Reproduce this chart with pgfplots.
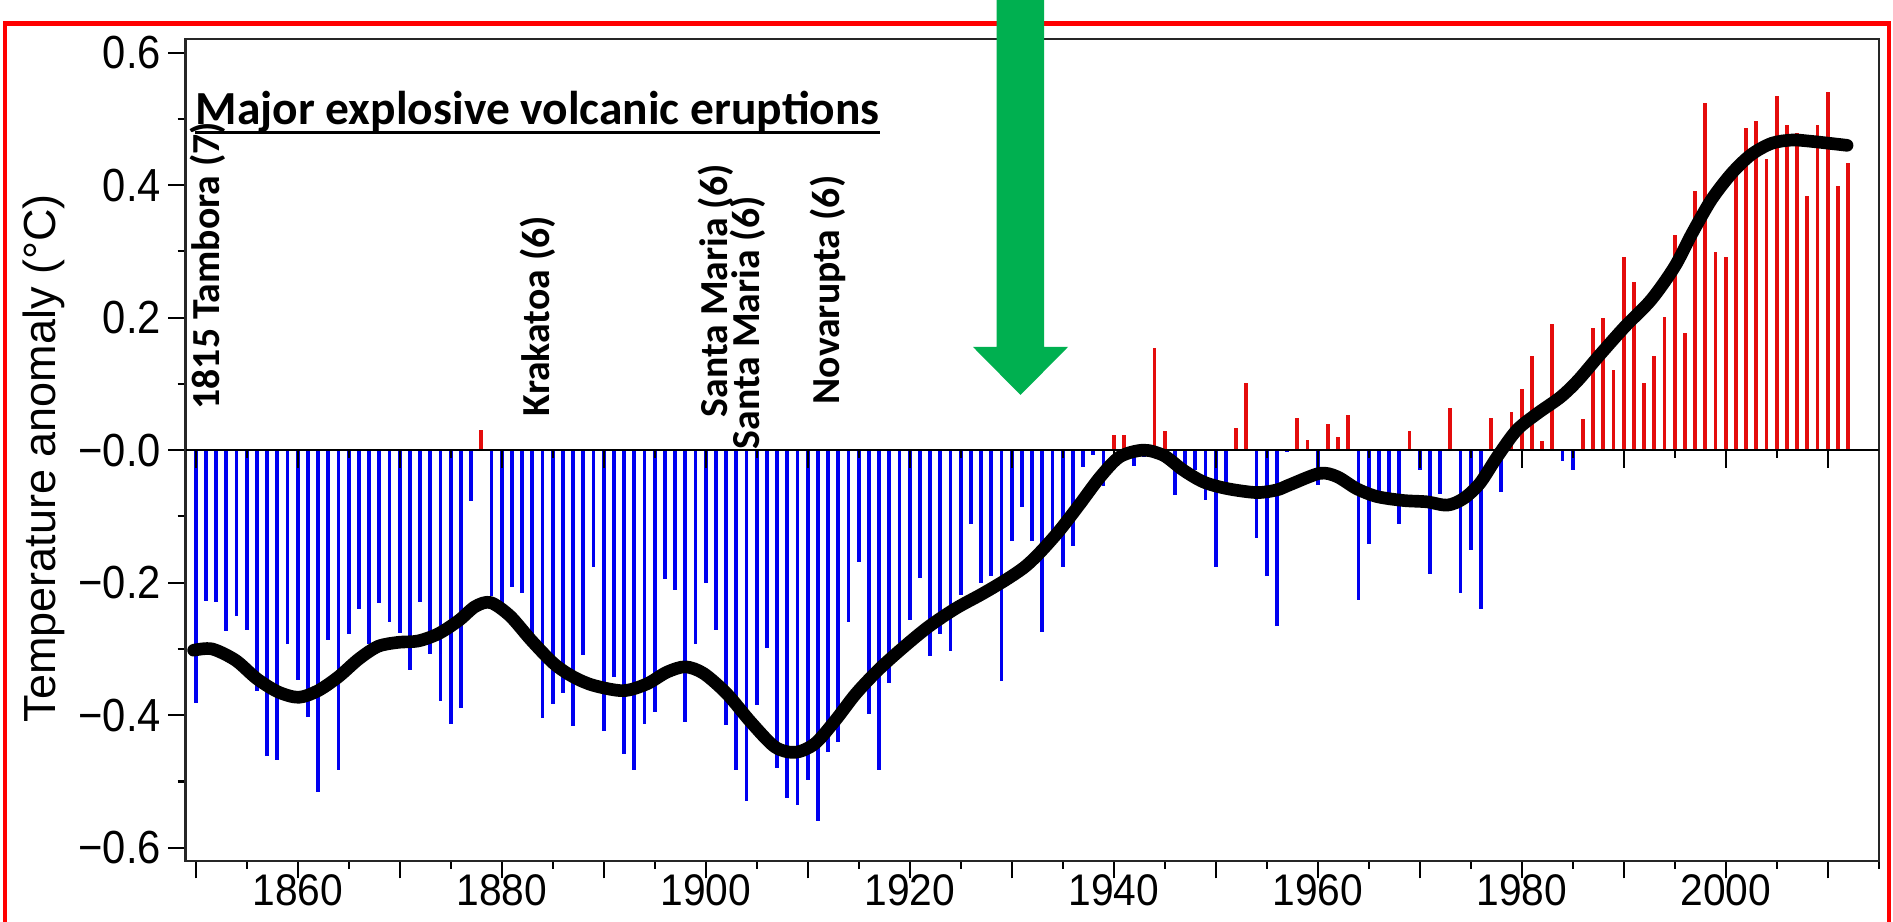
\documentclass[border=0pt]{standalone}
\usepackage{pgfplots}
\usepackage{pgfplotstable}
\pgfplotsset{compat=1.18}
\usepackage{fontspec}
\setmainfont{Liberation Sans}
\newfontfamily\calib{Carlito}
\definecolor{barblue}{RGB}{0,0,240}
\definecolor{barred}{RGB}{228,12,12}
\definecolor{arrowgreen}{RGB}{0,176,80}
\definecolor{framered}{RGB}{255,0,0}

\pgfplotstableread{
year val
1850 -0.382
1851 -0.227
1852 -0.229
1853 -0.273
1854 -0.251
1855 -0.271
1856 -0.363
1857 -0.462
1858 -0.468
1859 -0.293
1860 -0.347
1861 -0.402
1862 -0.516
1863 -0.287
1864 -0.483
1865 -0.277
1866 -0.240
1867 -0.292
1868 -0.231
1869 -0.260
1870 -0.276
1871 -0.332
1872 -0.229
1873 -0.307
1874 -0.378
1875 -0.414
1876 -0.389
1877 -0.077
1878 0.031
1879 -0.220
1880 -0.230
1881 -0.206
1882 -0.215
1883 -0.280
1884 -0.404
1885 -0.383
1886 -0.366
1887 -0.417
1888 -0.309
1889 -0.176
1890 -0.424
1891 -0.342
1892 -0.459
1893 -0.482
1894 -0.413
1895 -0.395
1896 -0.194
1897 -0.211
1898 -0.411
1899 -0.293
1900 -0.200
1901 -0.271
1902 -0.415
1903 -0.482
1904 -0.530
1905 -0.385
1906 -0.298
1907 -0.479
1908 -0.525
1909 -0.536
1910 -0.498
1911 -0.559
1912 -0.456
1913 -0.441
1914 -0.259
1915 -0.169
1916 -0.398
1917 -0.482
1918 -0.352
1919 -0.291
1920 -0.256
1921 -0.193
1922 -0.311
1923 -0.278
1924 -0.303
1925 -0.219
1926 -0.111
1927 -0.200
1928 -0.190
1929 -0.349
1930 -0.137
1931 -0.086
1932 -0.137
1933 -0.275
1934 -0.140
1935 -0.177
1936 -0.145
1937 -0.025
1938 -0.008
1939 -0.054
1940 0.023
1941 0.023
1942 -0.024
1943 -0.010
1944 0.154
1945 0.029
1946 -0.068
1947 -0.042
1948 -0.030
1949 -0.075
1950 -0.176
1951 -0.050
1952 0.034
1953 0.101
1954 -0.132
1955 -0.190
1956 -0.266
1957 -0.003
1958 0.048
1959 0.016
1960 -0.053
1961 0.040
1962 0.020
1963 0.053
1964 -0.226
1965 -0.142
1966 -0.070
1967 -0.075
1968 -0.112
1969 0.029
1970 -0.030
1971 -0.187
1972 -0.066
1973 0.063
1974 -0.216
1975 -0.150
1976 -0.240
1977 0.048
1978 -0.063
1979 0.058
1980 0.093
1981 0.142
1982 0.014
1983 0.190
1984 -0.017
1985 -0.030
1986 0.047
1987 0.185
1988 0.200
1989 0.121
1990 0.292
1991 0.253
1992 0.102
1993 0.142
1994 0.201
1995 0.324
1996 0.177
1997 0.391
1998 0.524
1999 0.299
2000 0.292
2001 0.434
2002 0.486
2003 0.497
2004 0.439
2005 0.535
2006 0.491
2007 0.479
2008 0.384
2009 0.490
2010 0.541
2011 0.399
2012 0.433
}\anomtab

\pgfplotstableread{
year val
1849.8 -0.302
1851.6 -0.300
1853.9 -0.317
1856.0 -0.345
1858.1 -0.365
1860.1 -0.373
1862.0 -0.363
1864.0 -0.342
1866.0 -0.315
1867.9 -0.296
1869.9 -0.290
1871.8 -0.288
1873.8 -0.277
1875.8 -0.257
1877.4 -0.236
1878.9 -0.230
1880.8 -0.250
1882.9 -0.287
1885.1 -0.322
1887.0 -0.342
1889.0 -0.355
1891.9 -0.363
1894.2 -0.353
1896.2 -0.335
1898.0 -0.327
1899.8 -0.337
1902.1 -0.368
1904.4 -0.410
1906.8 -0.448
1908.8 -0.456
1910.7 -0.443
1912.7 -0.408
1914.7 -0.368
1916.9 -0.332
1919.2 -0.300
1921.8 -0.267
1924.5 -0.239
1927.1 -0.217
1929.4 -0.196
1931.3 -0.176
1932.8 -0.154
1934.7 -0.121
1936.7 -0.081
1938.7 -0.040
1940.6 -0.010
1942.9 0.000
1944.9 -0.008
1946.8 -0.030
1948.8 -0.048
1951.1 -0.058
1954.0 -0.064
1956.0 -0.060
1957.3 -0.052
1960.2 -0.035
1961.9 -0.040
1963.8 -0.058
1965.8 -0.070
1968.4 -0.076
1970.7 -0.078
1972.7 -0.083
1974.3 -0.073
1975.9 -0.050
1977.6 -0.010
1979.5 0.030
1981.5 0.055
1983.8 0.080
1985.5 0.105
1987.5 0.141
1990.1 0.186
1992.7 0.227
1995.0 0.277
1996.7 0.327
1998.6 0.378
2000.6 0.418
2002.5 0.446
2004.5 0.463
2006.5 0.468
2008.4 0.466
2011.9 0.460
}\curvetab

\begin{document}
\begin{tikzpicture}
\useasboundingbox (0,0) rectangle (18.93,9.22);
\begin{axis}[
  at={(1.855cm,0.61cm)}, anchor=south west,
  scale only axis, width=16.932cm, height=8.217cm,
  xmin=1849, xmax=2015, ymin=-0.62, ymax=0.62,
  axis line style={line width=0.6pt, black!85},
  xtick={1850,1860,1870,1880,1890,1900,1910,1920,1930,1940,1950,1960,1970,1980,1990,2000,2010},
  xticklabels={,1860,,1880,,1900,,1920,,1940,,1960,,1980,,2000,},
  minor xtick={1855,1865,1875,1885,1895,1905,1915,1925,1935,1945,1955,1965,1975,1985,1995,2005,2015},
  ytick={-0.6,-0.4,-0.2,0,0.2,0.4,0.6},
  yticklabels={−0.6,−0.4,−0.2,−0.0,0.2,0.4,0.6},
  minor ytick={-0.5,-0.3,-0.1,0.1,0.3,0.5},
  tick align=outside,
  tick pos=left,
  major tick length=0.175cm, minor tick length=0.08cm,
  every tick/.style={line width=0.6pt, black},
  yticklabel style={font=\fontsize{13.2}{15}\selectfont, xscale=0.9, inner sep=2pt},
  xticklabel style={font=\fontsize{12.6}{14}\selectfont, xscale=0.92, inner sep=1pt, yshift=0.08cm},
  ylabel={Temperature anomaly (°C)},
  ylabel style={font=\fontsize{12.8}{15}\selectfont, at={(axis description cs:-0.0836,0.49)}, anchor=center},
]
\addplot[ycomb, barblue, line width=1.1pt, restrict y to domain=-1:0] table[x=year, y=val] {\anomtab};
\addplot[ycomb, barred, line width=1.1pt, restrict y to domain=0:1] table[x=year, y=val] {\anomtab};
\draw[line width=0.5pt, black] (axis cs:1849,0) -- (axis cs:2015,0);
\pgfplotsinvokeforeach{1850,1860,1870,1880,1890,1900,1910,1920,1930,1940,1950,1960,1970,1980,1990,2000,2010}{
  \draw[line width=0.6pt, black] (axis cs:#1,0) -- ([yshift=-0.18cm]axis cs:#1,0);
}
\pgfplotsinvokeforeach{1855,1865,1875,1885,1895,1905,1915,1925,1935,1945,1955,1965,1975,1985,1995,2005}{
  \draw[line width=0.6pt, black] (axis cs:#1,0) -- ([yshift=-0.08cm]axis cs:#1,0);
}
\addplot[black, line width=3.6pt, smooth, line cap=round, line join=round] table[x=year, y=val] {\curvetab};
\end{axis}

% volcano labels
\begin{scope}[every node/.style={rotate=90, anchor=base west, inner sep=0pt, font=\calib\bfseries\fontsize{11.3}{13}\selectfont}]
\node at (2.19,5.12) {1815 Tambora (7)};
\node at (5.49,5.05) {Krakatoa (6)};
\node at (7.27,5.04) {Santa Maria (6)};
\node at (7.59,4.72) {Santa Maria (6)};
\node at (8.39,5.17) {Novarupta (6)};
\end{scope}
\node[anchor=base west, inner sep=0pt, font=\calib\bfseries\fontsize{13.5}{16}\selectfont] (ttl) at (1.95,7.97) {Major explosive volcanic eruptions};
\draw[line width=0.03cm] ([yshift=-0.08cm]ttl.base west) -- ([yshift=-0.08cm]ttl.base east);

% frame and arrow
\draw[framered, line width=0.045cm] (0.05,-0.3) -- (0.05,8.983) -- (18.89,8.983) -- (18.89,-0.3);
\fill[arrowgreen] (9.965,9.4) -- (9.965,5.75) -- (9.73,5.75) -- (10.205,5.27) -- (10.68,5.75) -- (10.44,5.75) -- (10.44,9.4) -- cycle;
\end{tikzpicture}
\end{document}
